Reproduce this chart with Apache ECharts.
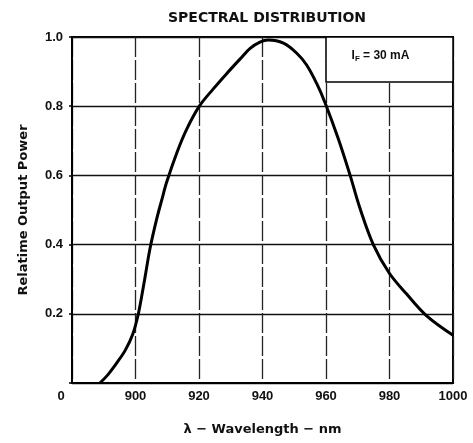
<!DOCTYPE html>
<html>
<head>
<meta charset="utf-8">
<script src="https://cdn.jsdelivr.net/npm/echarts@6/dist/echarts.min.js"></script>
<style>
  html, body { margin: 0; padding: 0; background: #fff; }
  #chart { width: 473px; height: 443px; }
</style>
</head>
<body>
<div id="chart"></div>
<script>
const wavelength = [888.8, 891.4, 894.1, 896.8, 899.1, 900.9, 902.7, 904.6, 906.7, 908.3, 909.8, 913, 916.1, 920.1, 924.5, 928.7, 932.9, 936.1, 939.2, 941.8, 946.6, 950.8, 953.9, 957.1, 959.7, 963.9, 967.6, 970.7, 974.9, 979.9, 985.4, 991.7, 1000]
const power = [0, 0.025, 0.058, 0.095, 0.14, 0.2, 0.29, 0.39, 0.475, 0.53, 0.58, 0.665, 0.733, 0.8, 0.85, 0.894, 0.936, 0.967, 0.985, 0.991, 0.982, 0.953, 0.919, 0.865, 0.81, 0.705, 0.6, 0.505, 0.4, 0.318, 0.257, 0.194, 0.138]
const xTicks = [880, 900, 920, 940, 960, 980, 1000]
const yTicks = [0, 0.2, 0.4, 0.6, 0.8, 1.0]
const legendBox = [[960, 0.87], [1000, 1.0]]

const font = 'Liberation Sans'
const nameFont = { fontFamily: 'DejaVu Sans', fontWeight: 'bold', fontSize: 13, color: '#111' }
const tickFont = { fontFamily: font, fontWeight: 'bold', fontSize: 13, color: '#111' }
const chart = echarts.init(document.getElementById('chart'))

chart.setOption({
  animation: false,
  title: {
    text: 'SPECTRAL DISTRIBUTION',
    left: 262,
    top: 6,
    textAlign: 'center',
    textStyle: { fontFamily: 'DejaVu Sans', fontWeight: 'bold', fontSize: 14, color: '#111' }
  },
  grid: {
    left: 72, right: 20, top: 37, bottom: 60,
    show: true, borderColor: '#000', borderWidth: 2, backgroundColor: 'transparent'
  },
  xAxis: {
    type: 'value',
    min: xTicks[0],
    max: xTicks[xTicks.length - 1],
    interval: 20,
    name: 'λ − Wavelength − nm',
    nameLocation: 'middle',
    nameGap: 40,
    nameTextStyle: nameFont,
    axisLine: { lineStyle: { color: '#000', width: 2 } },
    axisTick: { show: false },
    axisLabel: Object.assign({
      margin: 7,
      formatter: v => (v === 880 ? '{o|0}' : String(v)),
      rich: { o: Object.assign({ padding: [0, 22, 0, 0] }, tickFont) }
    }, tickFont),
    splitLine: { show: true, lineStyle: { color: '#222', width: 1.3, type: [20, 3] } }
  },
  yAxis: {
    type: 'value',
    min: yTicks[0],
    max: yTicks[yTicks.length - 1],
    interval: 0.2,
    name: 'Relatime Output Power',
    nameLocation: 'middle',
    nameGap: 42,
    nameTextStyle: nameFont,
    axisLine: { lineStyle: { color: '#000', width: 2 } },
    axisTick: { show: true, length: 3, lineStyle: { color: '#000', width: 1.5 } },
    axisLabel: Object.assign({
      margin: 9,
      formatter: v => (v === 0 ? '' : v.toFixed(1))
    }, tickFont),
    splitLine: { show: true, lineStyle: { color: '#111', width: 1.3 } }
  },
  series: [{
    type: 'line',
    data: wavelength.map((w, i) => [w, power[i]]),
    smooth: 0.35,
    showSymbol: false,
    lineStyle: { color: '#000', width: 3 },
    markArea: {
      silent: true,
      itemStyle: { color: '#fff', borderColor: '#000', borderWidth: 1.5 },
      label: {
        show: true,
        position: 'inside',
        offset: [-9, -4],
        formatter: '{i|I}{s|F}{i| = 30 mA}',
        rich: {
          i: { fontFamily: font, fontWeight: 'bold', fontSize: 12, color: '#111' },
          s: { fontFamily: font, fontWeight: 'bold', fontSize: 8, color: '#111', verticalAlign: 'bottom', padding: [6, 0, 0, 0] }
        }
      },
      data: [[{ coord: legendBox[0] }, { coord: legendBox[1] }]]
    }
  }]
})
</script>
</body>
</html>
